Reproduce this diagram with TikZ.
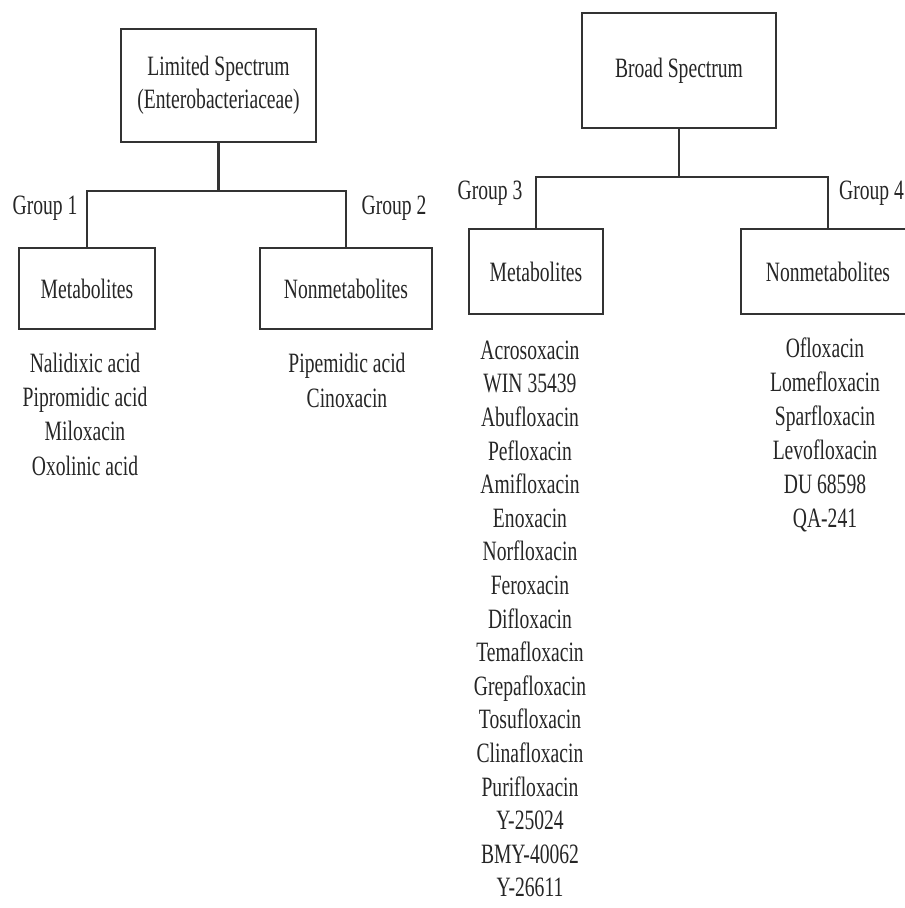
\documentclass[tikz,border=0pt]{standalone}
\usepackage{fontspec}
\setmainfont{Liberation Serif}[FakeStretch=0.7]
\begin{document}
\begin{tikzpicture}[x=1pt,y=-1pt,
  box/.style={draw=black!80, line width=2.4pt, rectangle, inner sep=0pt, align=center, font=\fontsize{28}{33}\selectfont, text=black!85},
  conn/.style={draw=black!80, line width=2.4pt},
  grp/.style={inner sep=0pt, font=\fontsize{28}{33}\selectfont, text=black!85},
  lst/.style={inner sep=0pt, align=center, text=black!85}]
\useasboundingbox (0,0) rectangle (905,908);
\clip (0,0) rectangle (905,908);
\fill[white] (0,0) rectangle (905,908);
% top boxes
\node[box, minimum width=195pt, minimum height=113pt] (ls) at (218.5,85.5) {Limited Spectrum\\(Enterobacteriaceae)};
\node[box, minimum width=194pt, minimum height=115pt] (bs) at (679,70.5) {Broad Spectrum};
% second level
\node[box, minimum width=136pt, minimum height=81pt] (m1) at (87,288.5) {Metabolites};
\node[box, minimum width=172pt, minimum height=81pt] (n1) at (346,288.5) {Nonmetabolites};
\node[box, minimum width=134pt, minimum height=85pt] (m2) at (536,271.5) {Metabolites};
\node[box, minimum width=174pt, minimum height=85pt] (n2) at (828,271.5) {Nonmetabolites};
% junctions
\coordinate (j1) at (218.5,191);
\coordinate (j2) at (679,177);
\draw[conn] (ls.south) -- (j1);
\draw[conn] (m1.north) |- (j1) -| (n1.north);
\draw[conn] (bs.south) -- (j2);
\draw[conn] (m2.north) |- (j2) -| (n2.north);
% group labels
\node[grp] (g1) at (45,208) {Group 1};
\node[grp] (g2) at (394,208) {Group 2};
\node[grp] (g3) at (490,193) {Group 3};
\node[grp, anchor=west] (g4) at (839,193) {Group 4};
% lists
\node[lst, font=\fontsize{28}{34.3}\selectfont] (l1) at (85,414) {Nalidixic acid\\Pipromidic acid\\Miloxacin\\Oxolinic acid};
\node[lst, font=\fontsize{28}{35}\selectfont] (l2) at (347,380) {Pipemidic acid\\Cinoxacin};
\node[lst, font=\fontsize{28}{33.6}\selectfont] (l3) at (530,619) {Acrosoxacin\\WIN 35439\\Abufloxacin\\Pefloxacin\\Amifloxacin\\Enoxacin\\Norfloxacin\\Feroxacin\\Difloxacin\\Temafloxacin\\Grepafloxacin\\Tosufloxacin\\Clinafloxacin\\Purifloxacin\\Y-25024\\BMY-40062\\Y-26611};
\node[lst, font=\fontsize{28}{34}\selectfont] (l4) at (825,435) {Ofloxacin\\Lomefloxacin\\Sparfloxacin\\Levofloxacin\\DU 68598\\QA-241};
\end{tikzpicture}
\end{document}
